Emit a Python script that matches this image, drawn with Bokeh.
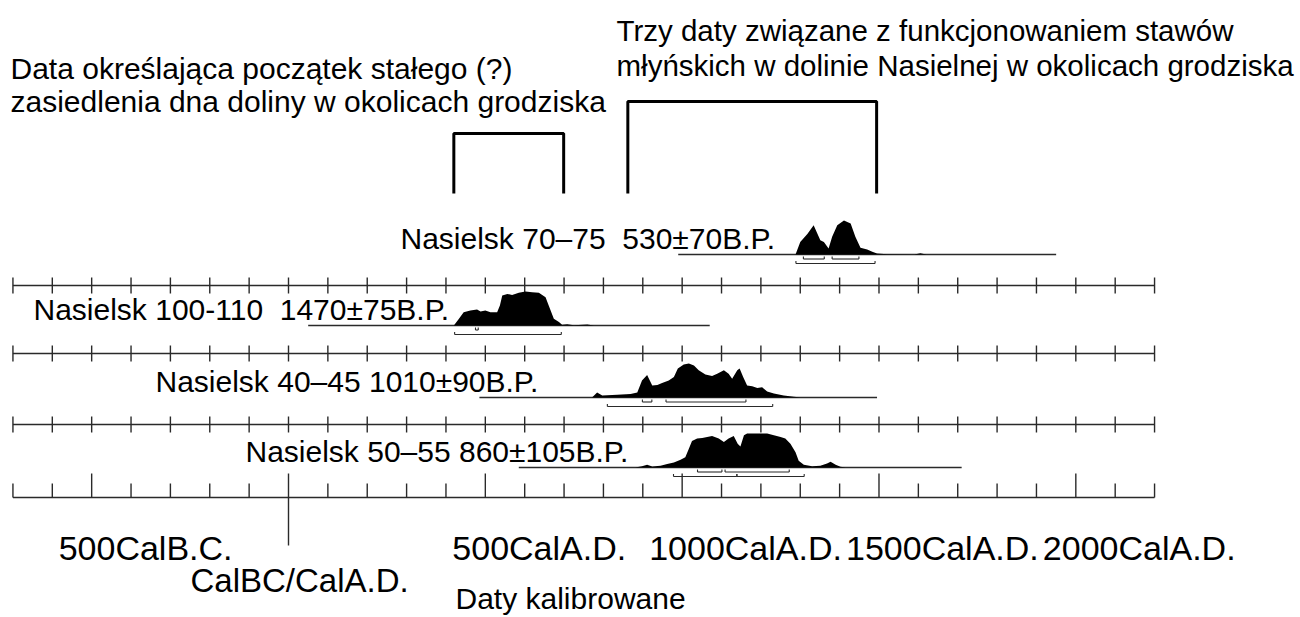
from bokeh.plotting import figure
from bokeh.models import Range1d
from bokeh.embed import file_html
from bokeh.resources import INLINE
from bokeh.core.properties import value

# ---------------- data ----------------
tick_years = list(range(-700, 2201, 100))
major_years = [-500, 500, 1000, 1500, 2000]
boundary_year = 0
axis_label_years = [-500, 500, 1000, 1500, 2000]
axis_labels = ["500CalB.C.", "500CalA.D.", "1000CalA.D.", "1500CalA.D.", "2000CalA.D."]

NB = "\u00a0"
sample_labels = ["Nasielsk 70\u201375 " + NB + "530\u00b170B.P.",
                 "Nasielsk 100-110 " + NB + "1470\u00b175B.P.",
                 "Nasielsk 40\u201345 1010\u00b190B.P.",
                 "Nasielsk 50\u201355 860\u00b1105B.P."]
plot_start = [990, 50, 485, 585]
plot_end = [1950, 1070, 1495, 1710]

# calibrated probability (relative to highest peak)
r1_years = [1288, 1300, 1318, 1334, 1351, 1360, 1372, 1381, 1394, 1411, 1428, 1440, 1453, 1470, 1483, 1495, 1521, 1590, 1605, 1620]
r1_prob = [0, 0.37, 0.60, 0.86, 0.42, 0.37, 0.18, 0.52, 0.86, 1.0, 0.91, 0.52, 0.20, 0.15, 0.08, 0.03, 0.01, 0, 0.04, 0]

r2_years = [420, 433, 445, 462, 479, 488, 500, 513, 530, 537, 543, 556, 568, 585, 602, 619, 636, 653, 661, 674, 687, 695, 708, 725, 759, 776]
r2_prob = [0, 0.20, 0.39, 0.44, 0.47, 0.41, 0.44, 0.39, 0.39, 0.59, 0.88, 0.93, 0.90, 0.96, 1.0, 0.98, 0.96, 0.83, 0.59, 0.20, 0.10, 0.02, 0.04, 0.01, 0.03, 0]

r3_years = [771, 784, 797, 835, 869, 886, 898, 911, 924, 937, 949, 966, 979, 989, 1004, 1017, 1030, 1042, 1059, 1076, 1089, 1106, 1118, 1127, 1140, 1146, 1155, 1165, 1178, 1191, 1203, 1216, 1233, 1258, 1284, 1301]
r3_prob = [0, 0.15, 0.06, 0.08, 0.10, 0.15, 0.50, 0.66, 0.35, 0.37, 0.43, 0.50, 0.60, 0.85, 0.97, 1.0, 0.94, 0.80, 0.68, 0.63, 0.70, 0.80, 0.70, 0.55, 0.80, 0.85, 0.60, 0.35, 0.33, 0.28, 0.30, 0.18, 0.12, 0.06, 0.02, 0]

r4_years = [881, 898, 911, 924, 945, 962, 979, 996, 1008, 1017, 1025, 1038, 1051, 1076, 1093, 1106, 1118, 1131, 1141, 1148, 1157, 1165, 1216, 1233, 1250, 1262, 1275, 1288, 1296, 1309, 1330, 1351, 1368, 1377, 1390, 1402, 1415]
r4_prob = [0, 0.04, 0.08, 0.03, 0.05, 0.10, 0.15, 0.23, 0.30, 0.55, 0.78, 0.85, 0.87, 0.93, 0.85, 0.75, 0.85, 0.93, 0.70, 0.62, 0.95, 1.0, 1.0, 0.95, 0.90, 0.85, 0.70, 0.45, 0.20, 0.08, 0.04, 0.05, 0.12, 0.17, 0.08, 0.02, 0]

# 1-sigma and 2-sigma ranges (start, end)
r1_s1_start, r1_s1_end = [1308, 1381], [1361, 1449]
r1_s2_start, r1_s2_end = [1289], [1490]
r2_s1_start, r2_s1_end = [475], [482]
r2_s2_start, r2_s2_end = [422], [693]
r3_s1_start, r3_s1_end = [899, 959], [923, 1162]
r3_s2_start, r3_s2_end = [810], [1230]
r4_s1_start, r4_s1_end = [1039, 1109], [1101, 1272]
r4_s2_start, r4_s2_end = [978, 1139], [1139, 1310]

group_left = [420, 699]
group_right = [862, 1494]

title_lines = ["Trzy daty zwi\u0105zane z funkcjonowaniem staw\u00f3w",
               "m\u0142y\u0144skich w dolinie Nasielnej w okolicach grodziska"]
note_lines = ["Data okre\u015blaj\u0105ca pocz\u0105tek sta\u0142ego (?)",
              "zasiedlenia dna doliny w okolicach grodziska"]

# ---------------- layout ----------------
PX = 0.39366          # px per year
X0 = 288              # page x of year 0
W, HT = 1300, 617
def yr(px):
    return (px - X0) / PX

p = figure(width=W, height=HT, x_range=Range1d(yr(0), yr(W)),
           y_range=Range1d(HT, 0), output_backend="svg",
           toolbar_location=None, min_border=0, title=None)
p.axis.visible = False
p.grid.visible = False
p.outline_line_color = None
p.background_fill_color = "white"

FONT = value("Liberation Sans")
AX = "#2a2a2a"

def txt(xs, ys, texts, size, **kw):
    p.text(x=xs, y=[v - 0.36 * size for v in ys], text=texts, text_font=FONT,
           text_font_size=f"{size}px", text_color="black", text_baseline="alphabetic", **kw)

# repeated time axes with crossing ticks
for ay in [285, 353, 424]:
    p.segment(x0=[tick_years[0]], y0=[ay], x1=[tick_years[-1]], y1=[ay], line_color=AX, line_width=1.4)
    p.segment(x0=tick_years, y0=[ay - 8] * len(tick_years), x1=tick_years, y1=[ay + 8] * len(tick_years),
              line_color=AX, line_width=1.4)

# bottom axis
BY = 497
p.segment(x0=[tick_years[0]], y0=[BY], x1=[tick_years[-1]], y1=[BY], line_color=AX, line_width=1.4)
minor = [t for t in tick_years if t not in major_years and t != boundary_year]
p.segment(x0=minor, y0=[BY - 14] * len(minor), x1=minor, y1=[BY] * len(minor), line_color=AX, line_width=1.4)
p.segment(x0=major_years, y0=[BY - 24] * len(major_years), x1=major_years, y1=[BY] * len(major_years),
          line_color=AX, line_width=1.4)
p.segment(x0=[boundary_year], y0=[BY - 24], x1=[boundary_year], y1=[545], line_color=AX, line_width=1.4)

txt(axis_label_years, [560] * len(axis_label_years), axis_labels, 34, x_offset=-33)
txt([boundary_year], [592], ["CalBC/CalA.D."], 33, x_offset=-98)
txt([yr(455)], [609], ["Daty kalibrowane"], 30)

# sample rows
baselines = [254, 325, 397, 467]
label_left = [400, 33, 155, 245]
label_base = [249, 320, 392, 462]
H = 34
rows = [
    (r1_years, r1_prob, r1_s1_start, r1_s1_end, r1_s2_start, r1_s2_end),
    (r2_years, r2_prob, r2_s1_start, r2_s1_end, r2_s2_start, r2_s2_end),
    (r3_years, r3_prob, r3_s1_start, r3_s1_end, r3_s2_start, r3_s2_end),
    (r4_years, r4_prob, r4_s1_start, r4_s1_end, r4_s2_start, r4_s2_end),
]
for i, (yrs, prob, s1a, s1b, s2a, s2b) in enumerate(rows):
    b = baselines[i]
    p.segment(x0=[plot_start[i]], y0=[b], x1=[plot_end[i]], y1=[b], line_color=AX, line_width=1.4)
    p.varea(x=yrs, y1=[b] * len(yrs), y2=[b - H * v for v in prob], fill_color="black")
    for off, a, z in [(4.5, s1a, s1b), (9, s2a, s2b)]:
        yy = b + off
        n = len(a)
        p.segment(x0=a, y0=[yy] * n, x1=z, y1=[yy] * n, line_color=AX, line_width=1.1)
        p.segment(x0=a, y0=[yy - 2.5] * n, x1=a, y1=[yy] * n, line_color=AX, line_width=1.1)
        p.segment(x0=z, y0=[yy - 2.5] * n, x1=z, y1=[yy] * n, line_color=AX, line_width=1.1)
    txt([yr(label_left[i])], [label_base[i]], [sample_labels[i]], 30)

# group brackets
for grp, top in [(group_left, 133), (group_right, 101)]:
    p.line(x=[grp[0], grp[0], grp[1], grp[1]], y=[193, top, top, 193], line_color="black", line_width=3)

# annotations
txt([yr(616)] * 2, [41, 76], title_lines, 29.5)
txt([yr(10)] * 2, [79, 112], note_lines, 30)

open("out.html", "w").write(file_html(p, INLINE))
